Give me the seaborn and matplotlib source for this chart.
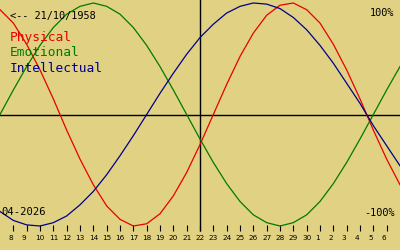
import numpy as np
import pandas as pd
import matplotlib
matplotlib.use("Agg")
import matplotlib.pyplot as plt
import matplotlib.transforms as mtransforms
import seaborn as sns

# ---- data ----
# day positions: 0 = 7 April 2026 ... 30 = 7 May 2026
day_index = list(range(0, 31))
physical = [0.94, 0.82, 0.63, 0.40, 0.14, -0.14, -0.40, -0.63, -0.82, -0.94,
            -1.00, -0.98, -0.89, -0.73, -0.52, -0.27, 0.00, 0.27, 0.52, 0.73,
            0.89, 0.98, 1.00, 0.94, 0.82, 0.63, 0.40, 0.14, -0.14, -0.40, -0.63]
emotional = [0.00, 0.22, 0.43, 0.62, 0.78, 0.90, 0.97, 1.00, 0.97, 0.90,
             0.78, 0.62, 0.43, 0.22, 0.00, -0.22, -0.43, -0.62, -0.78, -0.90,
             -0.97, -1.00, -0.97, -0.90, -0.78, -0.62, -0.43, -0.22, 0.00, 0.22, 0.43]
intellectual = [-0.87, -0.95, -0.99, -1.00, -0.97, -0.91, -0.81, -0.69, -0.54, -0.37,
                -0.19, 0.00, 0.19, 0.37, 0.54, 0.69, 0.81, 0.91, 0.97, 1.00,
                0.99, 0.95, 0.87, 0.76, 0.62, 0.46, 0.28, 0.10, -0.10, -0.28, -0.46]
tick_positions = list(range(1, 30))
tick_labels = [str(d) for d in range(8, 31)] + [str(d) for d in range(1, 7)]
today_position = 15
series_names = ["Physical", "Emotional", "Intellectual"]
series_colors = ["#E80000", "#007A00", "#00008C"]
birth_text = "<-- 21/10/1958"
month_text = "04-2026"

df = pd.DataFrame({
    "day": day_index * 3,
    "value": physical + emotional + intellectual,
    "series": [series_names[0]] * 31 + [series_names[1]] * 31 + [series_names[2]] * 31,
})

bg = "#E0D282"
fig = plt.figure(figsize=(4, 2.5), dpi=100, facecolor=bg)
ax = fig.add_axes([0, 0, 1, 1])
ax.set_facecolor(bg)

sns.lineplot(data=df, x="day", y="value", hue="series", hue_order=series_names,
             palette=series_colors, linewidth=0.9, legend=False, ax=ax,
             sort=False, zorder=3)

ax.set_xlim(0, 30)
ax.set_ylim(-1.2152, 1.0269)

# axes lines
ax.axhline(0, color="black", linewidth=1.0, zorder=2)
ax.vlines(today_position, -1.045, 1.1, color="black", linewidth=1.0, zorder=2)

# day ticks
for s in ["top", "right", "left", "bottom"]:
    ax.spines[s].set_visible(False)
ax.spines["bottom"].set_position(("data", -1.045))
ax.set_xticks(tick_positions)
ax.set_xticklabels(tick_labels, fontfamily="DejaVu Sans", fontsize=5.2, color="black")
ax.tick_params(axis="x", direction="in", length=4.3, width=0.8, pad=3.0, colors="black")
ax.set_yticks([])
ax.set_xlabel("")
ax.set_ylabel("")
for lab in ax.get_xticklabels():
    if len(lab.get_text()) == 1:
        lab.set_transform(lab.get_transform() +
                          mtransforms.ScaledTranslation(-3 / 100, 0, fig.dpi_scale_trans))

mono = "DejaVu Sans Mono"
px = lambda x, y: (x / 400, 1 - y / 250)

fig.text(*px(10, 16), birth_text, fontfamily=mono, fontsize=7.4, color="black",
         ha="left", va="center")
for i, (name, col) in enumerate(zip(series_names, series_colors)):
    fig.text(*px(10, 38 + 15 * i), name, fontfamily=mono, fontsize=9.3, color=col,
             ha="left", va="center")
fig.text(*px(394, 12.5), "100%", fontfamily=mono, fontsize=7.4, color="black",
         ha="right", va="center")
fig.text(*px(395, 213), "-100%", fontfamily=mono, fontsize=7.4, color="black",
         ha="right", va="center")
fig.text(*px(1, 212), month_text, fontfamily=mono, fontsize=7.6, color="black",
         ha="left", va="center")

fig.savefig("out.png", dpi=100, facecolor=bg)
